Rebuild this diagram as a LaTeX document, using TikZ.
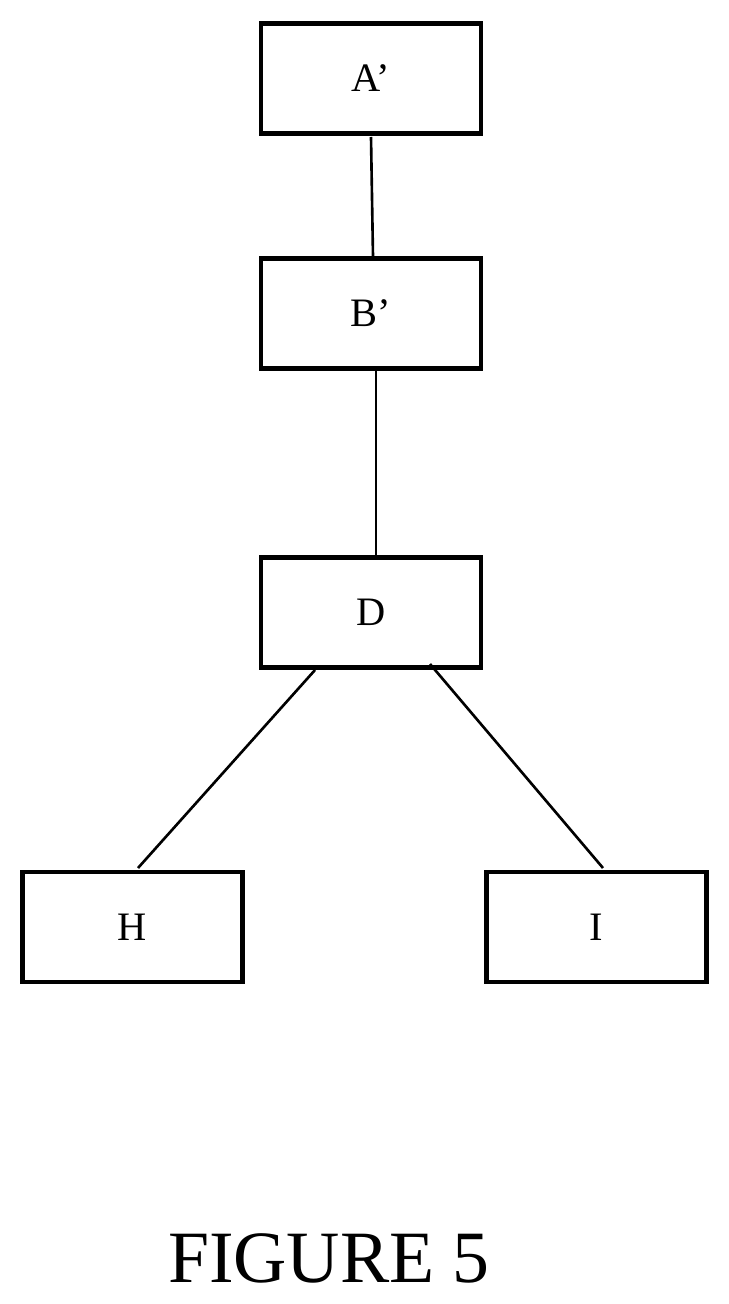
\documentclass[tikz,border=0pt]{standalone}
\usepackage{fontspec}
\setmainfont{Liberation Serif}
\begin{document}
\begin{tikzpicture}[x=0.02cm,y=-0.02cm,
  box/.style={draw,line width=2.4pt,minimum width=4.4cm,minimum height=2.2cm,inner sep=0pt,font=\fontsize{23}{26}\selectfont},
  conn/.style={line width=1.5pt}]
\useasboundingbox (0,0) rectangle (729,1304);
\node[box] (A) at (371,78.5) {A’};
\node[box] (B) at (371,313.5) {B’};
\node[box] (D) at (371,612.5) {D};
\node[box] (H) at (132.5,927) {H};
\node[box] (I) at (596.5,927) {I};
\coordinate (a1) at (371,137); \coordinate (b1) at (373,257);
\draw[conn] (a1) -- (b1);
\coordinate (b2) at (376,370); \coordinate (d1) at (376,557);
\draw[conn] (b2) -- (d1);
\coordinate (d2) at (315,670); \coordinate (h1) at (138,868);
\draw[conn] (d2) -- (h1);
\coordinate (d3) at (430,664); \coordinate (i1) at (603,868);
\draw[conn] (d3) -- (i1);
\node[font=\fontsize{42}{48}\selectfont] (cap) at (329,1258) {FIGURE 5};
\end{tikzpicture}
\end{document}
